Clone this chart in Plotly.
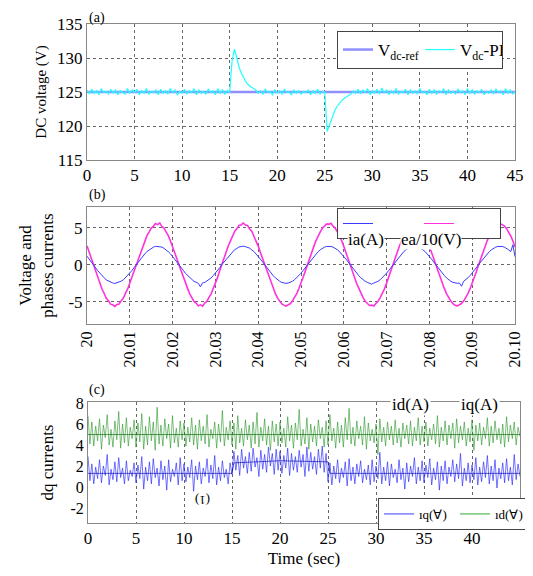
import numpy as np
import plotly.graph_objects as go

# ---------------- data ----------------
# (a) DC voltage, sampled every 0.25 s from 0 to 45 s
time_a = np.linspace(0, 45, 181)
vdc_ref = [125.0, 125.0]
vdc_ref_t = [0, 45]
vdc_pi = [
    125.3,124.7,125.4,124.8,125.2,124.6,125.5,124.9,125.1,124.7,125.4,124.8,125.3,124.6,125.2,125.0,124.7,125.5,124.8,125.3,
    124.9,125.4,124.6,125.2,124.8,125.5,124.7,125.1,124.9,125.3,124.6,125.4,124.8,125.2,124.7,125.5,124.9,125.3,124.6,125.1,
    124.8,125.4,124.7,125.2,124.9,125.5,124.6,125.3,124.8,125.1,124.7,125.4,124.9,125.2,124.6,125.5,124.8,125.3,124.7,125.2,
    125.0,129.5,131.3,130.0,128.6,127.7,127.0,126.4,126.0,125.7,125.5,
    125.3,124.8,125.2,124.7,125.4,124.9,125.1,124.6,125.3,124.8,125.2,124.7,125.4,124.9,125.0,124.6,125.3,124.8,125.2,124.7,
    125.1,124.9,125.3,124.6,125.2,124.8,125.4,124.7,125.1,
    125.0,119.2,120.2,121.3,122.1,122.8,123.3,123.7,124.0,124.3,124.5,124.7,
    125.2,124.8,125.4,124.7,125.3,124.9,125.5,124.6,125.2,124.8,125.4,124.7,125.6,124.9,125.3,124.6,125.2,124.8,125.5,124.7,
    125.1,124.9,125.4,124.6,125.3,124.8,125.2,124.7,125.5,124.9,125.1,124.6,125.4,124.8,125.3,124.7,125.2,124.9,125.5,124.6,
    125.3,124.8,125.1,124.7,125.4,124.9,125.2,124.6,125.5,124.8,125.3,124.7,125.2,124.9,125.4,124.6,125.1,124.8,125.3,124.7,
    125.4,124.9,125.2,124.6,125.5,124.8,125.3,124.7,125.1,
]

# (b) phase current and voltage, sampled every 0.5 ms from 20.000 to 20.100 s
time_b = np.linspace(20.0, 20.1, 201)
ea10 = [
    2.55,1.72,0.90,0.05,-0.82,-1.74,-2.46,-3.28,-3.85,-4.52,-4.86,-5.32,-5.40,-5.62,-5.38,-5.30,-4.85,-4.50,-3.84,-3.27,
    -2.46,-1.66,-0.90,0.04,0.82,1.74,2.46,3.27,3.93,4.41,4.96,5.19,5.58,5.42,5.66,5.16,4.95,4.40,3.93,3.20,
    2.46,1.74,0.82,-0.04,-0.90,-1.66,-2.54,-3.19,-3.93,-4.41,-4.96,-5.18,-5.55,-5.42,-5.60,-5.17,-4.96,-4.41,-3.93,-3.19,
    -2.54,-1.74,-0.82,0.05,0.90,1.66,2.54,3.19,3.85,4.50,4.85,5.31,5.38,5.64,5.36,5.31,4.84,4.52,3.85,3.28,
    2.52,1.68,0.88,-0.03,-0.84,-1.72,-2.48,-3.25,-3.87,-4.48,-4.88,-5.28,-5.45,-5.58,-5.40,-5.27,-4.88,-4.47,-3.91,-3.21,
    -2.52,-1.68,-0.86,0.03,0.86,1.72,2.48,3.25,3.91,4.43,4.93,5.25,5.52,5.46,5.60,5.21,4.93,4.43,3.87,3.25,
    2.48,1.70,0.84,-0.02,-0.88,-1.70,-2.52,-3.21,-3.91,-4.43,-4.93,-5.22,-5.50,-5.46,-5.57,-5.22,-4.92,-4.43,-3.87,-3.25,
    -2.48,-1.70,-0.88,0.02,0.84,1.70,2.52,3.21,3.87,4.47,4.88,5.27,5.45,5.58,5.40,5.26,4.88,4.47,3.91,3.23,
    2.50,1.71,0.87,0.01,-0.86,-1.71,-2.50,-3.23,-3.89,-4.45,-4.90,-5.25,-5.47,-5.55,-5.44,-5.24,-4.90,-4.45,-3.89,-3.23,
    -2.50,-1.71,-0.87,0.01,0.87,1.71,2.50,3.23,3.89,4.45,4.90,5.24,5.48,5.55,5.45,5.25,4.90,4.45,3.89,3.23,
    2.40,
]
ia = [
    1.16,0.75,0.41,0.02,-0.37,-0.79,-1.12,-1.49,-1.75,-2.05,-2.20,-2.41,-2.45,-2.53,-2.44,-2.40,-2.21,-2.04,-1.76,-1.48,
    -1.13,-0.78,-0.38,0.01,0.40,0.76,1.15,1.46,1.78,2.01,2.25,2.37,2.49,2.48,2.46,2.39,2.21,2.03,1.76,1.48,
    1.13,0.78,0.37,-0.02,-0.41,-0.75,-1.16,-1.45,-1.79,-2.00,-2.25,-2.36,-2.50,-2.98,-2.46,-2.39,-2.22,-2.01,-1.78,-1.46,
    -1.15,-0.76,-0.40,0.02,0.37,0.79,1.12,1.49,1.75,2.04,2.20,2.40,2.45,2.52,2.45,2.37,2.24,2.00,1.79,1.45,
    1.15,0.76,0.40,0.01,-0.38,-0.77,-1.14,-1.47,-1.76,-2.03,-2.22,-2.39,-2.47,-2.51,-2.47,-2.38,-2.23,-2.02,-1.77,-1.47,
    -1.14,-0.77,-0.39,0.00,0.39,0.77,1.14,1.47,1.77,2.02,2.23,2.38,2.47,2.50,2.47,2.38,2.23,2.02,1.77,1.47,
    1.14,0.77,0.39,0.00,-0.39,-0.77,-1.14,-1.47,-1.77,-2.02,-2.23,-2.38,-2.47,-2.62,-2.47,-2.38,-2.23,-2.02,-1.77,-1.47,
    -1.14,-0.77,-0.39,0.00,0.39,0.77,1.14,1.47,1.77,2.02,2.23,2.38,2.47,2.50,2.47,2.38,2.23,2.02,1.77,1.47,
    1.14,0.77,0.39,0.00,-0.39,-0.77,-1.14,-1.47,-1.77,-2.02,-2.23,-2.38,-2.47,-2.50,-2.47,-2.90,-2.23,-2.02,-1.77,-1.47,
    -1.14,-0.77,-0.39,0.00,0.39,0.77,1.14,1.47,1.77,2.02,2.23,2.38,2.47,2.50,2.47,2.38,2.23,2.02,1.77,2.70,
    1.10,
]
b_ticks = [20.0, 20.01, 20.02, 20.03, 20.04, 20.05, 20.06, 20.07, 20.08, 20.09, 20.1]
b_ticktext = ["20", "20.01", "20.02", "20.03", "20.04", "20.05", "20.06", "20.07", "20.08", "20.09", "20.10"]

# (c) dq currents, sampled every 0.2 s from 0 to 45 s
time_c = np.linspace(0, 45, 226)
iq_noisy = [
    6.8,4.1,6.2,3.9,5.8,4.4,6.5,3.6,5.9,4.7,6.9,4.0,5.5,3.8,6.3,4.5,7.2,3.7,6.0,4.2,6.6,3.9,5.7,4.6,6.4,
    3.8,6.1,4.3,7.0,3.6,5.8,4.0,6.7,4.4,6.2,3.5,7.6,4.1,5.9,3.9,6.5,4.6,6.0,3.7,6.8,4.2,5.6,3.8,6.3,4.5,
    6.1,3.9,5.7,4.3,6.6,4.0,5.9,3.6,6.4,4.4,5.8,4.1,6.9,3.8,5.5,4.6,6.2,3.7,6.0,4.3,7.3,3.9,5.7,4.5,6.3,
    4.0,6.1,3.6,6.8,4.2,5.6,3.9,6.4,4.5,5.9,3.7,6.2,4.1,7.1,3.8,5.7,4.4,6.5,4.0,5.8,3.5,6.3,4.3,6.0,3.9,
    6.2,4.2,5.6,3.8,6.7,4.4,5.9,3.7,6.1,4.5,7.4,3.9,5.5,4.1,6.6,3.6,6.0,4.3,5.8,3.9,6.4,4.6,5.7,3.8,6.3,
    4.0,6.9,4.4,5.6,3.7,6.2,4.2,5.9,3.8,6.6,4.5,7.5,4.1,5.7,3.9,6.3,4.6,5.8,4.0,6.7,3.6,6.1,4.4,5.5,4.2,
    6.0,3.1,6.5,4.3,5.7,3.9,6.2,4.5,5.8,4.0,6.4,4.2,5.6,3.8,6.1,4.6,5.9,4.1,6.3,3.9,5.7,4.4,6.6,4.0,5.8,
    4.3,6.2,3.9,5.6,4.5,6.0,4.1,6.8,3.8,5.7,4.4,6.3,4.0,5.9,4.6,6.1,3.7,6.5,4.2,5.8,4.5,6.2,3.9,5.6,4.3,
    6.4,3.5,5.9,4.4,6.1,4.0,5.7,4.6,6.6,3.9,5.8,4.2,6.3,4.5,5.6,4.1,6.0,3.8,6.7,4.3,5.9,4.6,6.2,4.0,5.7,4.8,
]
id_noisy = [
    2.9,0.6,2.2,0.3,1.9,0.8,2.6,0.4,2.0,1.1,3.1,0.2,1.7,0.7,2.4,0.5,2.8,0.9,1.8,0.3,2.5,0.6,1.6,1.0,2.3,
    0.4,2.1,0.8,2.9,-0.2,1.9,0.6,2.4,0.3,2.7,0.9,1.8,0.1,2.5,0.7,2.0,-0.3,2.6,0.5,1.7,1.0,2.3,0.2,2.8,0.6,
    2.2,0.5,1.9,0.9,2.6,-0.4,2.0,0.7,2.4,0.3,1.8,1.0,2.7,0.4,2.1,0.8,3.0,0.2,1.9,0.6,2.5,0.9,1.7,0.3,2.3,
    1.2,3.4,1.6,3.0,1.1,3.6,1.8,2.9,1.3,3.3,1.5,3.7,1.9,2.8,1.0,3.5,1.7,3.1,1.4,3.8,2.0,3.2,1.2,3.6,1.6,
    3.4,1.3,3.0,1.8,3.7,1.1,3.2,1.6,2.9,1.4,3.5,1.9,3.1,1.0,3.8,1.5,3.3,1.7,2.9,1.2,3.6,1.8,3.9,1.4,3.2,
    0.5,2.3,0.2,2.0,0.8,2.6,0.4,1.8,0.9,2.4,0.1,2.7,0.6,1.9,0.3,2.2,1.0,2.5,0.4,1.7,0.7,2.1,0.2,2.6,0.5,
    2.0,0.8,3.3,0.3,1.9,0.6,2.4,0.1,2.2,0.9,1.7,0.4,2.6,0.7,1.8,-0.2,2.3,0.5,2.0,1.0,2.8,0.3,1.9,0.6,2.5,
    0.4,2.1,0.9,2.7,0.2,1.8,0.7,2.4,-0.3,2.0,0.6,2.5,0.3,1.9,1.0,2.6,0.5,2.2,0.8,3.2,0.1,1.8,0.6,2.3,0.4,
    2.1,0.7,2.8,0.2,1.9,0.5,2.4,0.9,3.0,0.3,2.0,0.6,2.6,-0.1,1.8,0.8,2.3,0.4,2.7,0.6,1.9,0.2,3.1,0.7,2.2,1.0,
]
iq_mean_t = [0, 45]
iq_mean = [5.0, 5.0]
id_mean_t = [0, 15, 15.2, 20, 25, 25.2, 45]
id_mean = [1.3, 1.3, 2.3, 2.5, 2.4, 1.3, 1.3]

# ---------------- figure ----------------
FONT = 'Liberation Serif, "Times New Roman", Times, serif'
GRID = "#666666"
FRAME = "#888888"

fig = go.Figure()

# (a)
fig.add_trace(go.Scatter(x=vdc_ref_t, y=vdc_ref, mode="lines", name="V<sub>dc-ref</sub>",
                         line=dict(color="#8f8fff", width=2.5), xaxis="x", yaxis="y", legend="legend"))
fig.add_trace(go.Scatter(x=time_a, y=vdc_pi, mode="lines", name="V<sub>dc</sub>-PI",
                         line=dict(color="#22ffff", width=1.2), xaxis="x", yaxis="y", legend="legend"))

# (b)
fig.add_trace(go.Scatter(x=time_b, y=ea10, mode="lines", name="ea/10(V)",
                         line=dict(color="#ff33dd", width=1.6), xaxis="x2", yaxis="y2", showlegend=False))
fig.add_trace(go.Scatter(x=time_b, y=ia, mode="lines", name="\u2003",
                         line=dict(color="#3a3aff", width=1), xaxis="x2", yaxis="y2", legend="legend2"))
fig.add_trace(go.Scatter(x=[None], y=[None], mode="lines", name="\u2003",
                         line=dict(color="#ff33dd", width=1), xaxis="x2", yaxis="y2", legend="legend2"))

# (c)
fig.add_trace(go.Scatter(x=time_c, y=iq_noisy, mode="lines", name="iq(A)",
                         line=dict(color="rgba(40,150,40,0.6)", width=1), xaxis="x3", yaxis="y3", showlegend=False))
fig.add_trace(go.Scatter(x=time_c, y=id_noisy, mode="lines", name="id(A)",
                         line=dict(color="rgba(40,40,255,0.65)", width=1), xaxis="x3", yaxis="y3", showlegend=False))
fig.add_trace(go.Scatter(x=iq_mean_t, y=iq_mean, mode="lines", name="iq mean",
                         line=dict(color="rgba(0,100,0,0.8)", width=0.8), xaxis="x3", yaxis="y3", showlegend=False))
fig.add_trace(go.Scatter(x=id_mean_t, y=id_mean, mode="lines", name="id mean",
                         line=dict(color="rgba(0,0,170,0.8)", width=0.8), xaxis="x3", yaxis="y3", showlegend=False))
fig.add_trace(go.Scatter(x=[None], y=[None], mode="lines", name="ıq(∀)",
                         line=dict(color="#3a3aff", width=1), xaxis="x3", yaxis="y3", legend="legend3"))
fig.add_trace(go.Scatter(x=[None], y=[None], mode="lines", name="ıd(∀)",
                         line=dict(color="#33aa33", width=1), xaxis="x3", yaxis="y3", legend="legend3"))

# the page body adds an 8 px offset, so the figure is drawn 8 px smaller and positions are shifted
OFF = 8
W, H = 533 - OFF, 576 - OFF
def px_x(p): return (p - OFF) / W
def px_y(p): return 1 - (p - OFF) / H

axis_common = dict(showline=True, mirror=True, linecolor=FRAME, linewidth=1,
                   gridcolor=GRID, griddash="dot", gridwidth=1, zeroline=False,
                   ticks="", automargin=False)

fig.update_layout(
    width=W, height=H, margin=dict(l=0, r=0, t=0, b=0, autoexpand=False),
    paper_bgcolor="white", plot_bgcolor="white",
    font=dict(family=FONT, color="black"),
    xaxis=dict(domain=[px_x(87), px_x(515)], anchor="y", range=[0, 45],
               tickvals=[0, 5, 10, 15, 20, 25, 30, 35, 40, 45],
               tickfont=dict(family=FONT, size=17), **axis_common),
    yaxis=dict(domain=[px_y(160), px_y(24)], anchor="x", range=[115, 135],
               tickvals=[115, 120, 125, 130, 135], tickfont=dict(family=FONT, size=17),
               title=dict(text="DC voltage (V)", font=dict(family=FONT, size=15), standoff=6), **axis_common),
    xaxis2=dict(domain=[px_x(87), px_x(515)], anchor="y2", range=[20.0, 20.1],
                tickvals=b_ticks, ticktext=b_ticktext, tickangle=-90,
                tickfont=dict(family=FONT, size=16), **axis_common),
    yaxis2=dict(domain=[px_y(324), px_y(207)], anchor="x2", range=[-8, 7.8],
                tickvals=[-5, 0, 5], ticktext=["-5", "0", "5"], tickfont=dict(family=FONT, size=17),
                title=dict(text="Voltage and<br>phases currents", font=dict(family=FONT, size=17), standoff=10),
                **axis_common),
    xaxis3=dict(domain=[px_x(88), px_x(520)], anchor="y3", range=[0, 45],
                tickvals=[0, 5, 10, 15, 20, 25, 30, 35, 40], tickfont=dict(family=FONT, size=17),
                title=dict(text="Time (sec)", font=dict(family=FONT, size=17), standoff=4), **axis_common),
    yaxis3=dict(domain=[px_y(523), px_y(402)], anchor="x3", range=[-3.43, 8.1],
                tickvals=[-2, 0, 2, 4, 6, 8], ticktext=["-2", "0", "2", "4", "6", "8"], showgrid=False,
                tickfont=dict(family=FONT, size=16),
                title=dict(text="dq currents", font=dict(family=FONT, size=17), standoff=12),
                **{k: v for k, v in axis_common.items() if k != "gridcolor"}),
    yaxis4=dict(domain=[px_y(523), px_y(402)], anchor="x3", overlaying="y3", range=[-3.43, 8.1],
                tickvals=[7.05, 2.86, -1.43], showticklabels=False, showgrid=True,
                gridcolor=GRID, griddash="dot", zeroline=False, showline=False),
    legend=dict(x=px_x(337), y=px_y(31), xanchor="left", yanchor="top", orientation="h",
                bgcolor="white", bordercolor="#444444", borderwidth=1,
                font=dict(family=FONT, size=17), entrywidth=37, itemwidth=30,
                tracegroupgap=0),
    legend2=dict(x=px_x(337), y=px_y(208), xanchor="left", yanchor="top", orientation="h",
                 bgcolor="white", bordercolor="#444444", borderwidth=1,
                 font=dict(family=FONT, size=10), entrywidth=36, itemwidth=30),
    legend3=dict(x=px_x(378), y=px_y(498), xanchor="left", yanchor="top", orientation="h",
                 bgcolor="white", bordercolor="#444444", borderwidth=1,
                 font=dict(family=FONT, size=13), entrywidth=31, itemwidth=30),
)

# panel letters and inline labels
for txt, yp in [("(a)", 18), ("(b)", 195), ("(c)", 390)]:
    fig.add_annotation(text=txt, x=px_x(88), y=px_y(yp), xref="paper", yref="paper",
                       xanchor="left", yanchor="middle", showarrow=False, borderpad=0,
                       font=dict(family=FONT, size=14, color="black"))

for txt, xp, yp in [("ia(A)", 385, 239), ("ea/10(V)", 462, 239)]:
    fig.add_annotation(text=txt, x=px_x(xp), y=px_y(yp), xref="paper", yref="paper",
                       showarrow=False, bgcolor="white", borderpad=0,
                       font=dict(family=FONT, size=17, color="black"))
for txt, xp, yp in [("id(A)", 431, 416), ("iq(A)", 500, 416)]:
    fig.add_annotation(text=txt, x=px_x(xp), y=px_y(yp), xref="paper", yref="paper",
                       showarrow=False, bgcolor="white", borderpad=1,
                       font=dict(family=FONT, size=17, color="black"))
fig.add_annotation(text="(1)", x=px_x(203), y=px_y(510), xref="paper", yref="paper",
                   showarrow=False, textangle=180, font=dict(family=FONT, size=13, color="black"))

fig.write_html("out.html")
